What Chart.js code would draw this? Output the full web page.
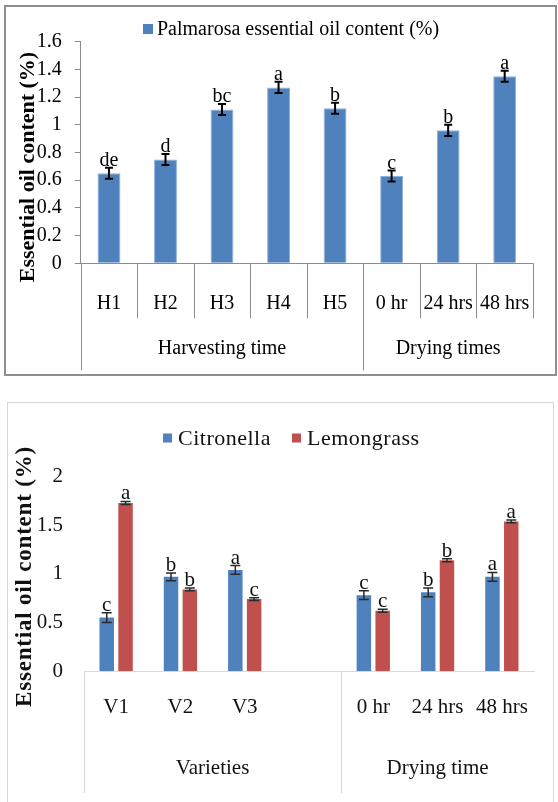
<!DOCTYPE html>
<html>
<head>
<meta charset="utf-8">
<script src="https://cdn.jsdelivr.net/npm/chart.js@4.4.1/dist/chart.umd.min.js"></script>
<style>
  html, body { margin: 0; padding: 0; background: #fff; }
  body { width: 558px; height: 802px; position: relative; overflow: hidden; }
  #frame1 { position: absolute; left: 4px; top: 5px; width: 549px; height: 367px; border: 2px solid #8f8f8f; }
  #frame2 { position: absolute; left: 7px; top: 402px; width: 545px; height: 420px; border: 1px solid #d6d6d6; }
  #c1 { position: absolute; left: 0; top: 0; }
  #c2 { position: absolute; left: 0; top: 392px; filter: blur(0.5px); }
</style>
</head>
<body>
<div id="frame1"></div>
<div id="frame2"></div>
<canvas id="c1" width="558" height="392"></canvas>
<canvas id="c2" width="558" height="410"></canvas>
<script>
// ---- Palmarosa: harvesting stage and drying time ----
const palmCategories = ['H1', 'H2', 'H3', 'H4', 'H5', '0 hr', '24 hrs', '48 hrs'];
const palmGroups = ['Harvesting time', 'Drying times'];
const palmGroupSizes = [5, 3];
const palmOil = [0.65, 0.75, 1.11, 1.27, 1.12, 0.63, 0.96, 1.35];
const palmErr = [0.04, 0.04, 0.04, 0.04, 0.04, 0.04, 0.04, 0.04];
const palmLetters = ['de', 'd', 'bc', 'a', 'b', 'c', 'b', 'a'];
const palmYTicks = [0, 0.2, 0.4, 0.6, 0.8, 1, 1.2, 1.4, 1.6];

// ---- Citronella and lemongrass: variety and drying time ----
const grassCategories = ['V1', 'V2', 'V3', '', '0 hr', '24 hrs', '48 hrs'];
const grassGroups = ['Varieties', 'Drying time'];
const grassGroupSizes = [4, 3];
const citronellaOil = [0.55, 0.97, 1.04, null, 0.78, 0.81, 0.97];
const citronellaErr = [0.05, 0.04, 0.045, null, 0.045, 0.045, 0.045];
const citronellaLetters = ['c', 'b', 'a', '', 'c', 'b', 'a'];
const lemongrassOil = [1.73, 0.84, 0.74, null, 0.62, 1.14, 1.54];
const lemongrassErr = [0.015, 0.015, 0.015, null, 0.015, 0.015, 0.015];
const lemongrassLetters = ['a', 'b', 'c', '', 'c', 'b', 'a'];
const grassYTicks = [0, 0.5, 1, 1.5, 2];

const SERIF = '"Liberation Serif", "Times New Roman", serif';

// Error bars, significance letters, two-level category axis, legend and y title
const decorations = {
  id: 'decorations',
  afterDatasetsDraw(chart, args, o) {
    const ctx = chart.ctx;
    const y = chart.scales.y;
    ctx.save();
    chart.data.datasets.forEach((ds, di) => {
      const meta = chart.getDatasetMeta(di);
      meta.data.forEach((bar, i) => {
        const v = ds.data[i];
        if (v == null) return;
        const e = ds.errors[i] || 0;
        const yt = y.getPixelForValue(v + e);
        const yb = y.getPixelForValue(v - e);
        ctx.strokeStyle = o.errColor;
        ctx.lineWidth = o.errWidth;
        ctx.beginPath();
        ctx.moveTo(bar.x, yt); ctx.lineTo(bar.x, yb);
        ctx.moveTo(bar.x - o.cap, yt); ctx.lineTo(bar.x + o.cap, yt);
        ctx.moveTo(bar.x - o.cap, yb); ctx.lineTo(bar.x + o.cap, yb);
        ctx.stroke();
        ctx.fillStyle = o.textColor;
        ctx.font = o.font;
        ctx.textAlign = 'center';
        ctx.textBaseline = 'alphabetic';
        ctx.fillText(ds.letters[i], bar.x, yt - o.letterGap);
      });
    });
    ctx.restore();
  },
  afterDraw(chart, args, o) {
    const ctx = chart.ctx;
    const x = chart.scales.x;
    const axisY = chart.scales.y.bottom;
    const n = chart.data.labels.length;
    ctx.save();
    // category separators below the axis
    const starts = [0];
    o.groupSizes.forEach(s => starts.push(starts[starts.length - 1] + s));
    ctx.strokeStyle = o.lineColor;
    ctx.lineWidth = 1;
    for (let i = 0; i <= n; i++) {
      const px = Math.round(x.getPixelForValue(i - 0.5)) + 0.5;
      let len = 0;
      if (starts.indexOf(i) !== -1 && i < n) len = o.longLen;
      else if (i === n) len = o.endLen;
      else if (o.innerLines) len = o.shortLen;
      if (!len) continue;
      ctx.beginPath();
      ctx.moveTo(px, axisY);
      ctx.lineTo(px, axisY + len);
      ctx.stroke();
    }
    // group labels
    ctx.fillStyle = o.textColor;
    ctx.font = o.font;
    ctx.textAlign = 'center';
    ctx.textBaseline = 'middle';
    o.groups.forEach((g, gi) => {
      const a = x.getPixelForValue(starts[gi] - 0.5);
      const b = x.getPixelForValue(starts[gi + 1] - 0.5);
      ctx.fillText(g, (a + b) / 2, o.groupY);
    });
    // legend
    chart.data.datasets.forEach((ds, di) => {
      const lx = o.legendX[di];
      ctx.fillStyle = ds.backgroundColor;
      ctx.fillRect(lx, o.legendY - o.legendBox / 2, o.legendBox, o.legendBox);
      ctx.fillStyle = o.textColor;
      ctx.font = o.legendFont;
      ctx.letterSpacing = o.legendSpacing;
      ctx.textAlign = 'left';
      ctx.textBaseline = 'middle';
      ctx.fillText(ds.label, lx + o.legendBox + o.legendGap, o.legendY + 1);
      ctx.letterSpacing = '0px';
    });
    // y axis title
    ctx.translate(o.titleX, o.titleY);
    ctx.rotate(-Math.PI / 2);
    ctx.font = o.titleFont;
    ctx.letterSpacing = o.titleSpacing;
    ctx.fillStyle = o.textColor;
    ctx.textAlign = 'center';
    ctx.textBaseline = 'middle';
    ctx.fillText(o.title, 0, 0);
    ctx.letterSpacing = '0px';
    ctx.restore();
  }
};

const oneDecimal = v => String(Number(v.toFixed(2)));

// Palmarosa chart
new Chart(document.getElementById('c1'), {
  type: 'bar',
  data: {
    labels: palmCategories,
    datasets: [{
      label: 'Palmarosa essential oil content (%)',
      data: palmOil,
      errors: palmErr,
      letters: palmLetters,
      backgroundColor: '#4F81BD',
      borderColor: '#8db0da',
      borderWidth: { top: 1, left: 1, right: 1, bottom: 0 },
      categoryPercentage: 1,
      barPercentage: 0.405
    }]
  },
  options: {
    responsive: false,
    devicePixelRatio: 1,
    animation: false,
    layout: { padding: { left: 0, top: 41.7, right: 9.7, bottom: 0 } },
    plugins: {
      legend: { display: false },
      tooltip: { enabled: false },
      decorations: {
        errColor: '#000', errWidth: 2, cap: 4, letterGap: 2,
        textColor: '#000', font: '20px ' + SERIF,
        groupSizes: palmGroupSizes, groups: palmGroups, groupY: 349,
        lineColor: '#8c8c8c', shortLen: 55, longLen: 107, endLen: 55, innerLines: true,
        legendX: [143], legendY: 29, legendBox: 10, legendGap: 4,
        legendFont: '20px ' + SERIF, legendSpacing: '0px',
        title: 'Essential oil content (%)', titleX: 28, titleY: 167,
        titleFont: 'bold 22px ' + SERIF, titleSpacing: '0px'
      }
    },
    scales: {
      x: {
        type: 'category',
        offset: true,
        grid: { display: false, drawTicks: false },
        border: { display: true, color: '#8c8c8c', width: 1 },
        ticks: { color: '#000', font: { family: SERIF, size: 20 }, padding: 28, maxRotation: 0, autoSkip: false },
        afterFit: s => { s.height = 392 - 263.3; }
      },
      y: {
        min: 0, max: 1.6,
        afterBuildTicks: s => { s.ticks = palmYTicks.map(v => ({ value: v })); },
        grid: { drawOnChartArea: false, drawTicks: true, tickLength: 6, color: '#8c8c8c' },
        border: { display: true, color: '#8c8c8c', width: 1 },
        ticks: { color: '#000', font: { family: SERIF, size: 20 }, padding: 13, callback: oneDecimal },
        afterFit: s => { s.width = 80.7; }
      }
    }
  },
  plugins: [decorations]
});

// Citronella / lemongrass chart
new Chart(document.getElementById('c2'), {
  type: 'bar',
  data: {
    labels: grassCategories,
    datasets: [{
      label: 'Citronella',
      data: citronellaOil,
      errors: citronellaErr,
      letters: citronellaLetters,
      backgroundColor: '#4F81BD',
      categoryPercentage: 0.585,
      barPercentage: 0.77
    }, {
      label: 'Lemongrass',
      data: lemongrassOil,
      errors: lemongrassErr,
      letters: lemongrassLetters,
      backgroundColor: '#C0504D',
      categoryPercentage: 0.585,
      barPercentage: 0.77
    }]
  },
  options: {
    responsive: false,
    devicePixelRatio: 1,
    animation: false,
    layout: { padding: { left: 0, top: 84.7, right: 24, bottom: 0 } },
    plugins: {
      legend: { display: false },
      tooltip: { enabled: false },
      decorations: {
        errColor: '#2a2a2a', errWidth: 1.5, cap: 5, letterGap: 2,
        textColor: '#111', font: '21px ' + SERIF,
        groupSizes: grassGroupSizes, groups: grassGroups, groupY: 376,
        lineColor: '#d9d9d9', shortLen: 0, longLen: 122, endLen: 0, innerLines: false,
        legendX: [163, 292], legendY: 46, legendBox: 9, legendGap: 6,
        legendFont: '22px ' + SERIF, legendSpacing: '0.5px',
        title: 'Essential oil content (%)', titleX: 25, titleY: 184.5,
        titleFont: 'bold 23px ' + SERIF, titleSpacing: '0.8px'
      }
    },
    scales: {
      x: {
        type: 'category',
        offset: true,
        grid: { display: false, drawTicks: false },
        border: { display: true, color: '#d9d9d9', width: 1 },
        ticks: { color: '#111', font: { family: SERIF, size: 21 }, padding: 24, maxRotation: 0, autoSkip: false },
        afterFit: s => { s.height = 410 - 279; }
      },
      y: {
        min: 0, max: 2,
        afterBuildTicks: s => { s.ticks = grassYTicks.map(v => ({ value: v })); },
        grid: { display: false, drawTicks: false },
        border: { display: false },
        ticks: { color: '#111', font: { family: SERIF, size: 21 }, padding: 21, callback: oneDecimal },
        afterFit: s => { s.width = 84; }
      }
    }
  },
  plugins: [decorations]
});
</script>
</body>
</html>
